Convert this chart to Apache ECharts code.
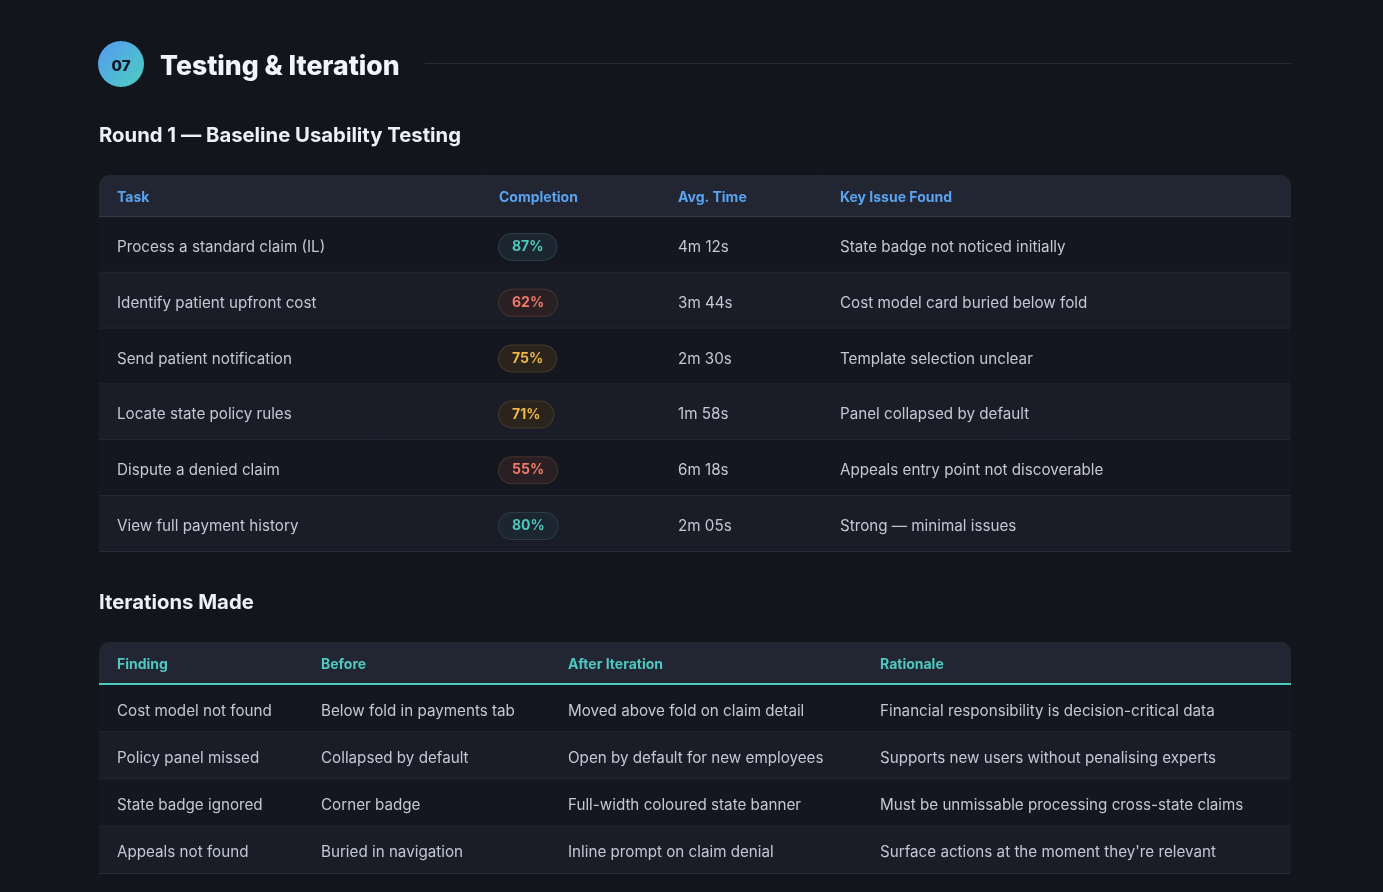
<!DOCTYPE html>
<html>
<head>
<meta charset="utf-8">
<script src="https://cdn.jsdelivr.net/npm/echarts@6/dist/echarts.min.js"></script>
<style>
html,body{margin:0;padding:0;background:#13151d;}
#c{width:1383px;height:892px;}
</style>
</head>
<body>
<div id="c"></div>
<script>
// ---------- DATA ----------
const sectionNumber = '07';
const sectionTitle = 'Testing & Iteration';
const round1Title = 'Round 1 — Baseline Usability Testing';
const iterTitle = 'Iterations Made';

const t1Columns = ['Task', 'Completion', 'Avg. Time', 'Key Issue Found'];
const t1Tasks = ['Process a standard claim (IL)', 'Identify patient upfront cost', 'Send patient notification', 'Locate state policy rules', 'Dispute a denied claim', 'View full payment history'];
const t1Completion = [87, 62, 75, 71, 55, 80];
const t1AvgTime = ['4m 12s', '3m 44s', '2m 30s', '1m 58s', '6m 18s', '2m 05s'];
const t1Issues = ['State badge not noticed initially', 'Cost model card buried below fold', 'Template selection unclear', 'Panel collapsed by default', 'Appeals entry point not discoverable', 'Strong — minimal issues'];

const t2Columns = ['Finding', 'Before', 'After Iteration', 'Rationale'];
const t2Findings = ['Cost model not found', 'Policy panel missed', 'State badge ignored', 'Appeals not found'];
const t2Before = ['Below fold in payments tab', 'Collapsed by default', 'Corner badge', 'Buried in navigation'];
const t2After = ['Moved above fold on claim detail', 'Open by default for new employees', 'Full-width coloured state banner', 'Inline prompt on claim denial'];
const t2Rationale = ['Financial responsibility is decision-critical data', 'Supports new users without penalising experts', 'Must be unmissable processing cross-state claims', 'Surface actions at the moment they\'re relevant'];

// ---------- LAYOUT / STYLE ----------
const TABLE_W = 1192;
const t1Edges = [0, 382, 561, 723, TABLE_W];
const t2Edges = [0, 204, 451, 763, TABLE_W];
const PAD = 18;
const BODY_DY = 2.5;
const HEAD_DY = 2;
const FONT = 'Inter, "Noto Sans", sans-serif';
const BG = '#13151d';
const ROW_EVEN = '#14171f';
const ROW_ODD = '#1a1d27';
const HEAD_BG = '#222632';
const ROW_LINE = '#272b37';
const TEXT = '#c3c8d4';

function badgeStyle(v) {
  if (v >= 80) return { fill: '#4fc7bc', bg: '#1c2630', border: '#2e3a45' };
  if (v >= 70) return { fill: '#efb648', bg: '#2a241d', border: '#443a2a' };
  return { fill: '#ee7a68', bg: '#2a2024', border: '#46322f' };
}

function rowsData(n) { const a = []; for (let i = 0; i < n; i++) a.push([0, i]); return a; }
function cellsData(nCols, nRows) { const a = []; for (let r = 0; r < nRows; r++) for (let c = 0; c < nCols; c++) a.push([c, r]); return a; }

function bandRender(params, api) {
  const row = api.value(1);
  const c0 = api.coord([0, row]);
  const c1 = api.coord([TABLE_W, row]);
  const h = api.size([0, 1])[1];
  const top = c0[1] - h / 2;
  return {
    type: 'group', children: [
      { type: 'rect', shape: { x: c0[0], y: top, width: c1[0] - c0[0], height: h }, style: { fill: row % 2 ? ROW_ODD : ROW_EVEN } },
      { type: 'line', shape: { x1: c0[0], y1: top + h - 0.5, x2: c1[0], y2: top + h - 0.5 }, style: { stroke: ROW_LINE, lineWidth: 1 } }
    ]
  };
}

function headerBandRender(edges, lineColor, lineW, seps) {
  return function (params, api) {
    const c0 = api.coord([0, 0]);
    const c1 = api.coord([TABLE_W, 0]);
    const h = api.size([0, 1])[1];
    const top = c0[1] - h / 2;
    const children = [
      { type: 'rect', shape: { x: c0[0], y: top, width: c1[0] - c0[0], height: h + lineW, r: [10, 10, 0, 0] }, style: { fill: HEAD_BG } },
      { type: 'rect', shape: { x: c0[0], y: top + h, width: c1[0] - c0[0], height: lineW }, style: { fill: lineColor } }
    ];
    seps.forEach(function (ci) {
      const x = api.coord([edges[ci], 0])[0] + 0.5;
      children.push({ type: 'line', shape: { x1: x, y1: top, x2: x, y2: top + h }, style: { stroke: '#262a36', lineWidth: 1, lineDash: [1, 2] } });
    });
    return { type: 'group', children: children };
  };
}

function headerTextRender(edges, labels, color) {
  return function (params, api) {
    const col = api.value(0);
    const p = api.coord([edges[col], 0]);
    return { type: 'text', style: { text: labels[col], x: p[0] + PAD, y: p[1] + HEAD_DY, fill: color, font: '700 14px ' + FONT, textAlign: 'left', textVerticalAlign: 'middle' } };
  };
}

function cellRender(edges, getText, badgeCol, badgeVals) {
  return function (params, api) {
    const col = api.value(0), row = api.value(1);
    const p = api.coord([edges[col], row]);
    if (col === badgeCol) {
      const v = badgeVals[row];
      const s = badgeStyle(v);
      return { type: 'text', style: { text: v + '%', x: p[0] + PAD, y: p[1] + BODY_DY - 0.5, fill: s.fill, font: '700 14px ' + FONT, textAlign: 'left', textVerticalAlign: 'middle', backgroundColor: s.bg, borderColor: s.border, borderWidth: 1, borderRadius: 13, padding: [5, 13, 5, 13], lineHeight: 16 } };
    }
    return { type: 'text', style: { text: getText(col, row), x: p[0] + PAD, y: p[1] + BODY_DY, fill: TEXT, font: '400 15.2px ' + FONT, textAlign: 'left', textVerticalAlign: 'middle' } };
  };
}

const t1Cols = [t1Tasks, null, t1AvgTime, t1Issues];
const t2Cols = [t2Findings, t2Before, t2After, t2Rationale];

const grids = [
  { left: 99, top: 175, width: TABLE_W, height: 41 },
  { left: 99, top: 217, width: TABLE_W, height: 335 },
  { left: 99, top: 642, width: TABLE_W, height: 41 },
  { left: 99, top: 685, width: TABLE_W, height: 189 }
];
const xAxes = grids.map(function (g, i) { return { type: 'value', gridIndex: i, min: 0, max: TABLE_W, show: false }; });
const yAxes = [
  { type: 'category', gridIndex: 0, data: ['header'], inverse: true, show: false },
  { type: 'category', gridIndex: 1, data: t1Tasks.map(function (_, i) { return i; }), inverse: true, show: false },
  { type: 'category', gridIndex: 2, data: ['header'], inverse: true, show: false },
  { type: 'category', gridIndex: 3, data: t2Findings.map(function (_, i) { return i; }), inverse: true, show: false }
];

const chart = echarts.init(document.getElementById('c'), null, { renderer: 'canvas' });
chart.setOption({
  backgroundColor: BG,
  animation: false,
  grid: grids,
  xAxis: xAxes,
  yAxis: yAxes,
  graphic: [
    { type: 'circle', shape: { cx: 121, cy: 64, r: 23 }, style: { fill: new echarts.graphic.LinearGradient(0, 0, 1, 1, [{ offset: 0, color: '#5599f2' }, { offset: 1, color: '#4ccfbf' }]) } },
    { type: 'text', style: { text: sectionNumber, x: 121, y: 66, fill: '#121620', font: '800 15px ' + FONT, textAlign: 'center', textVerticalAlign: 'middle' } },
    { type: 'text', style: { text: sectionTitle, x: 160, y: 66.5, fill: '#f3f4f8', font: '800 26.6px ' + FONT, textAlign: 'left', textVerticalAlign: 'middle' } },
    { type: 'line', shape: { x1: 425, y1: 63.5, x2: 1291, y2: 63.5 }, style: { stroke: '#262a35', lineWidth: 1 } },
    { type: 'text', style: { text: round1Title, x: 99, y: 135.5, fill: '#eef0f5', font: '700 20.3px ' + FONT, textAlign: 'left', textVerticalAlign: 'middle' } },
    { type: 'text', style: { text: iterTitle, x: 99, y: 602.5, fill: '#eef0f5', font: '700 20.3px ' + FONT, textAlign: 'left', textVerticalAlign: 'middle' } }
  ],
  series: [
    { type: 'custom', name: 't1-header-band', xAxisIndex: 0, yAxisIndex: 0, data: [[0, 0]], renderItem: headerBandRender(t1Edges, '#333746', 2, [1, 3]), silent: true },
    { type: 'custom', name: 't1-header', xAxisIndex: 0, yAxisIndex: 0, data: t1Columns.map(function (_, i) { return [i, 0]; }), renderItem: headerTextRender(t1Edges, t1Columns, '#5aa3f0'), silent: true },
    { type: 'custom', name: 't1-rows', xAxisIndex: 1, yAxisIndex: 1, data: rowsData(t1Tasks.length), renderItem: bandRender, silent: true },
    { type: 'custom', name: 't1-cells', xAxisIndex: 1, yAxisIndex: 1, data: cellsData(4, t1Tasks.length), renderItem: cellRender(t1Edges, function (c, r) { return t1Cols[c][r]; }, 1, t1Completion), silent: true },
    { type: 'custom', name: 't2-header-band', xAxisIndex: 2, yAxisIndex: 2, data: [[0, 0]], renderItem: headerBandRender(t2Edges, '#4ec8c0', 2, [1]), silent: true },
    { type: 'custom', name: 't2-header', xAxisIndex: 2, yAxisIndex: 2, data: t2Columns.map(function (_, i) { return [i, 0]; }), renderItem: headerTextRender(t2Edges, t2Columns, '#4ec8c0'), silent: true },
    { type: 'custom', name: 't2-rows', xAxisIndex: 3, yAxisIndex: 3, data: rowsData(t2Findings.length), renderItem: bandRender, silent: true },
    { type: 'custom', name: 't2-cells', xAxisIndex: 3, yAxisIndex: 3, data: cellsData(4, t2Findings.length), renderItem: cellRender(t2Edges, function (c, r) { return t2Cols[c][r]; }, -1, []), silent: true }
  ]
});
</script>
</body>
</html>
